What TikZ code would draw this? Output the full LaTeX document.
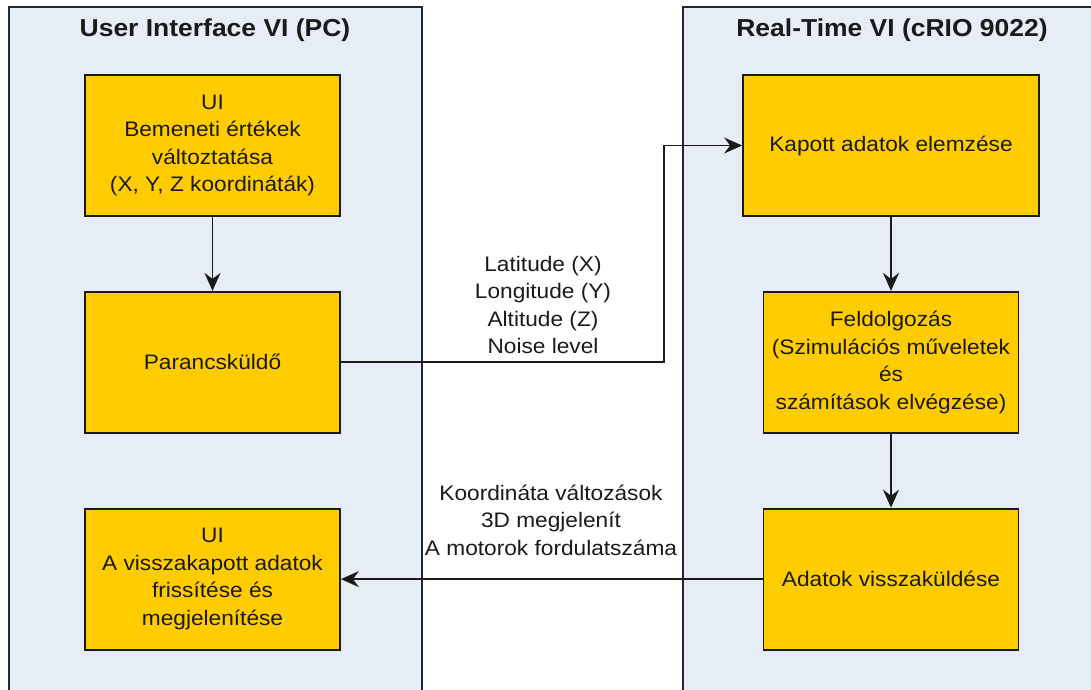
\documentclass[tikz,border=0pt]{standalone}
\usepackage{fontspec}
\setmainfont{Liberation Sans}[FakeStretch=1.08]
\usepackage{xcolor}
\usetikzlibrary{arrows.meta,positioning}
\definecolor{PanelFill}{HTML}{E7EDF7}
\definecolor{PanelLine}{HTML}{262626}
\definecolor{Step}{HTML}{FFCC00}
\definecolor{Ink}{HTML}{1A1A1A}

\begin{document}
\begin{tikzpicture}[x=1pt,y=-1pt,node distance=74pt,font=\fontsize{21}{27.5}\selectfont]
  \tikzstyle{panel}=[draw=PanelLine,line width=1.6pt,fill=PanelFill]
  \tikzstyle{block}=[draw=Ink,line width=1.8pt,fill=Step,text=Ink,minimum width=255pt,minimum height=141pt,align=center,inner sep=2pt]
  \tikzstyle{flow}=[draw=Ink,line width=1.7pt,-{Stealth[length=18pt,width=16pt,inset=6pt]}]
  \tikzstyle{title}=[font=\fontsize{24.5}{28}\selectfont\bfseries,text=Ink]
  \useasboundingbox (0,0) rectangle (1091,689);
  \clip (0,0) rectangle (1091,689);
  \fill[white] (0,0) rectangle (1091,689);
  \draw[panel] (9,7) rectangle (422,700);
  \draw[panel] (683,7) rectangle (1100,700);
  \node[title] (uihead) at (215,30) {User Interface VI (PC)};
  \node[title] (rthead) at (892,30) {Real-Time VI (cRIO 9022)};
  % PC side
  \node[block] (uiin) at (212.5,145.5) {UI\\Bemeneti értékek\\változtatása\\(X, Y, Z koordináták)};
  \node[block,below=of uiin] (cmd) {Parancsküldő};
  \node[block,below=of cmd] (uiout) {UI\\A visszakapott adatok\\frissítése és\\megjelenítése};
  % cRIO side
  \node[block,minimum width=296pt] (recv) at (891,145.5) {Kapott adatok elemzése};
  \node[block,below=of recv] (proc) {Feldolgozás\\(Szimulációs műveletek\\és\\számítások elvégzése)};
  \node[block,below=of proc] (send) {Adatok visszaküldése};
  \draw[flow] (uiin) -- (cmd);
  \draw[flow] (cmd.east) -| ([xshift=-78pt]recv.west) -- (recv.west);
  \draw[flow] (recv) -- (proc);
  \draw[flow] (proc) -- (send);
  \draw[flow] (send) -- (uiout);
  \node[align=center,text=Ink] (fwd) at (543,305) {Latitude (X)\\Longitude (Y)\\Altitude (Z)\\Noise level};
  \node[align=center,text=Ink] (back) at (551,520) {Koordináta változások\\3D megjelenít\\A motorok fordulatszáma};
\end{tikzpicture}
\end{document}
